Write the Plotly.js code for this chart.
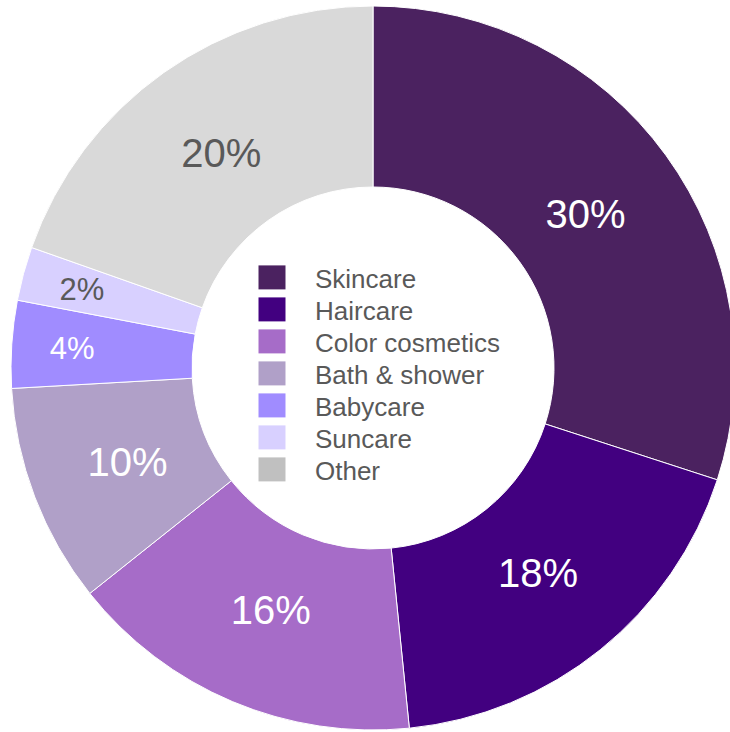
<!DOCTYPE html>
<html><head><meta charset="utf-8">
<script src="https://cdn.plot.ly/plotly-3.0.1.min.js"></script>
<style>html,body{margin:0;padding:0;overflow:hidden;background:#fff}#chart{width:746px;height:732px}</style>
</head><body><div id="chart"></div>
<script>
const categories = ['Skincare', 'Haircare', 'Color cosmetics', 'Bath & shower', 'Babycare', 'Suncare', 'Other'];
const shares = [30.0, 18.4, 15.9, 9.8, 3.9, 2.4, 19.6];
const sliceColors = ['#4B2260', '#420080', '#A66CC8', '#B0A0C8', '#A08CFF', '#D8D0FF', '#D9D9D9'];
const legendColors = ['#4B2260', '#420080', '#A66CC8', '#B0A0C8', '#A08CFF', '#D8D0FF', '#C0C0C0'];
const labelColors = ['#FFFFFF', '#FFFFFF', '#FFFFFF', '#FFFFFF', '#FFFFFF', '#595959', '#595959'];
const labelSizes = [40, 40, 40, 40, 31, 31, 40];

const FONT = 'Liberation Sans, Arial, sans-serif';
const LABEL_R_BIG = 0.726;   // label radius (fraction of outer radius) for wide slices
const LABEL_R_SMALL = 0.833; // for thin slices
const LEGEND_ROW = 32;

const trace = {
  type: 'pie',
  labels: categories,
  values: shares,
  sort: false,
  direction: 'clockwise',
  rotation: 0,
  hole: 0.5,
  texttemplate: '%{percent:.0%}',
  textposition: 'inside',
  insidetextorientation: 'horizontal',
  insidetextfont: {family: FONT, size: labelSizes, color: labelColors},
  marker: {colors: sliceColors, line: {color: '#FFFFFF', width: 1}},
  domain: {x: [0, 1], y: [2 / 732, 726 / 732]},
  hoverinfo: 'label+percent'
};

const layout = {
  width: 746,
  height: 732,
  margin: {l: 0, r: 0, t: 0, b: 0},
  paper_bgcolor: '#FFFFFF',
  showlegend: true,
  legend: {
    x: 245 / 746, xanchor: 'left',
    y: 1 - 254 / 732, yanchor: 'top',
    font: {family: FONT, size: 26, color: '#595959'},
    itemwidth: 60,
    bgcolor: 'rgba(0,0,0,0)',
    tracegroupgap: 0
  }
};

function fixLegend() {
  const items = document.querySelectorAll('#chart .legend .traces');
  let y0 = null, x0 = 0;
  items.forEach((g, i) => {
    const t = g.getAttribute('transform') || '';
    const m = t.match(/translate\(\s*([-\d.e]+)[ ,]+([-\d.e]+)\s*\)/);
    if (m) {
      if (y0 === null) { y0 = parseFloat(m[2]); x0 = parseFloat(m[1]); }
      g.setAttribute('transform', 'translate(' + x0 + ',' + (y0 + i * LEGEND_ROW) + ')');
    }
    const p = g.querySelector('path.legendpie');
    if (p) {
      p.setAttribute('d', 'M5.5,12H-21.5V-12H5.5Z');
      p.style.fill = legendColors[i];
      p.style.strokeWidth = '0px';
    }
  });
}

function fixLabels(gd) {
  const cd0 = gd.calcdata && gd.calcdata[0] && gd.calcdata[0][0];
  if (!cd0) return;
  const cx = cd0.cx, cy = cd0.cy, R = cd0.r;
  const total = shares.reduce((a, b) => a + b, 0);
  const slices = document.querySelectorAll('#chart g.slice');
  let cum = 0;
  slices.forEach((s, i) => {
    const frac = shares[i] / total;
    const mid = (cum + frac / 2) * 2 * Math.PI;
    cum += frac;
    const txt = s.querySelector('g.slicetext text');
    if (!txt) return;
    const rf = frac < 0.05 ? LABEL_R_SMALL : LABEL_R_BIG;
    const tx = cx + R * rf * Math.sin(mid);
    const ty = cy - R * rf * Math.cos(mid);
    txt.removeAttribute('transform');
    const bb = txt.getBBox();
    txt.setAttribute('transform', 'translate(' + (tx - (bb.x + bb.width / 2)) + ',' + (ty - (bb.y + bb.height / 2)) + ')');
  });
}

Plotly.newPlot('chart', [trace], layout, {displayModeBar: false}).then(gd => {
  const fixAll = () => { fixLegend(); fixLabels(gd); };
  fixAll();
  gd.on('plotly_afterplot', fixAll);
});
</script>
</body></html>
